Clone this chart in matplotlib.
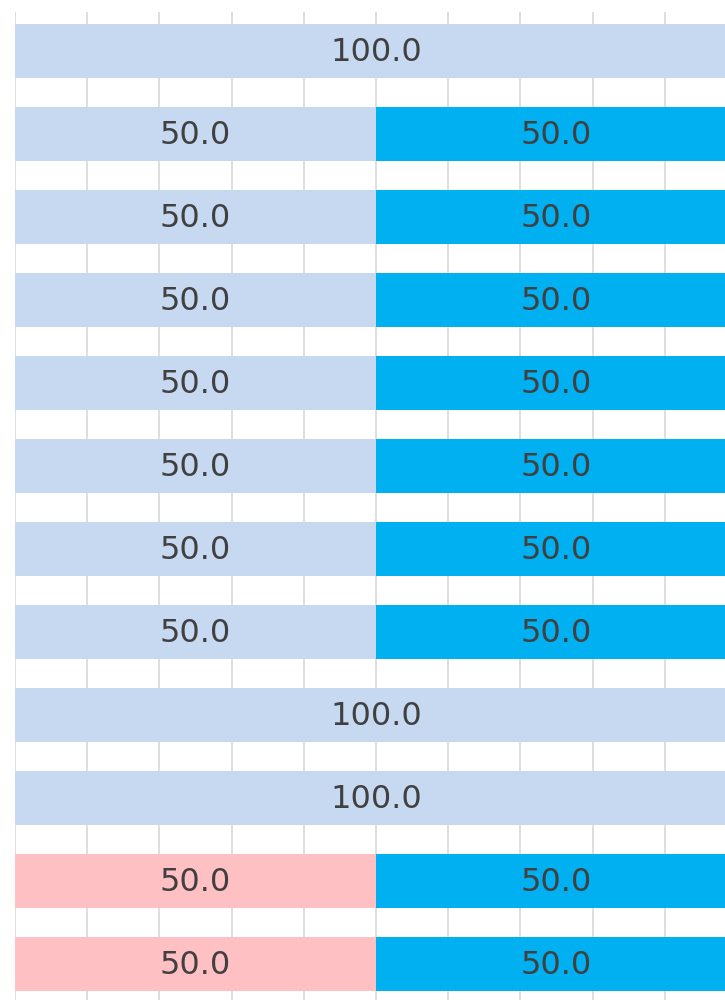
import matplotlib.pyplot as plt
import numpy as np

# values, top row first
first_vals = [100.0, 50.0, 50.0, 50.0, 50.0, 50.0, 50.0, 50.0, 100.0, 100.0, 50.0, 50.0]
second_vals = [0.0, 50.0, 50.0, 50.0, 50.0, 50.0, 50.0, 50.0, 0.0, 0.0, 50.0, 50.0]
first_kind = ["a", "a", "a", "a", "a", "a", "a", "a", "a", "a", "b", "b"]

kind_colors = {"a": "#C6D9F1", "b": "#FFC0C3"}
second_color = "#00B0F0"
text_color = "#404040"

fig = plt.figure(figsize=(7.25, 10), dpi=100)
W, H = 725, 1000
x0, x100 = 15, 737
y_top, y_bot = 12, 1000
ax = fig.add_axes([x0 / W, 1 - y_bot / H, (x100 - x0) / W, (y_bot - y_top) / H])

rows = np.arange(len(first_vals))
pitch = 83
c0 = 51
ax.set_ylim((y_bot - c0) / pitch, (y_top - c0) / pitch)
ax.set_xlim(0, 100)

h = 54 / pitch
cols = [kind_colors[k] for k in first_kind]
ax.barh(rows, first_vals, height=h, color=cols, zorder=2)
ax.barh(rows, second_vals, left=first_vals, height=h, color=second_color, zorder=2)

for i in rows:
    if first_vals[i] > 0:
        ax.text(first_vals[i] / 2, i + 0.02, f"{first_vals[i]:.1f}", ha="center", va="center",
                fontsize=23, color=text_color, zorder=3)
    if second_vals[i] > 0:
        ax.text(first_vals[i] + second_vals[i] / 2, i + 0.02, f"{second_vals[i]:.1f}", ha="center",
                va="center", fontsize=23, color=text_color, zorder=3)

ax.set_xticks(np.arange(0, 101, 10))
ax.grid(axis="x", color="#D9D9D9", linewidth=1.2, zorder=0)
ax.tick_params(left=False, bottom=False, labelleft=False, labelbottom=False)
for s in ax.spines.values():
    s.set_visible(False)

fig.savefig("out.png", dpi=100)
